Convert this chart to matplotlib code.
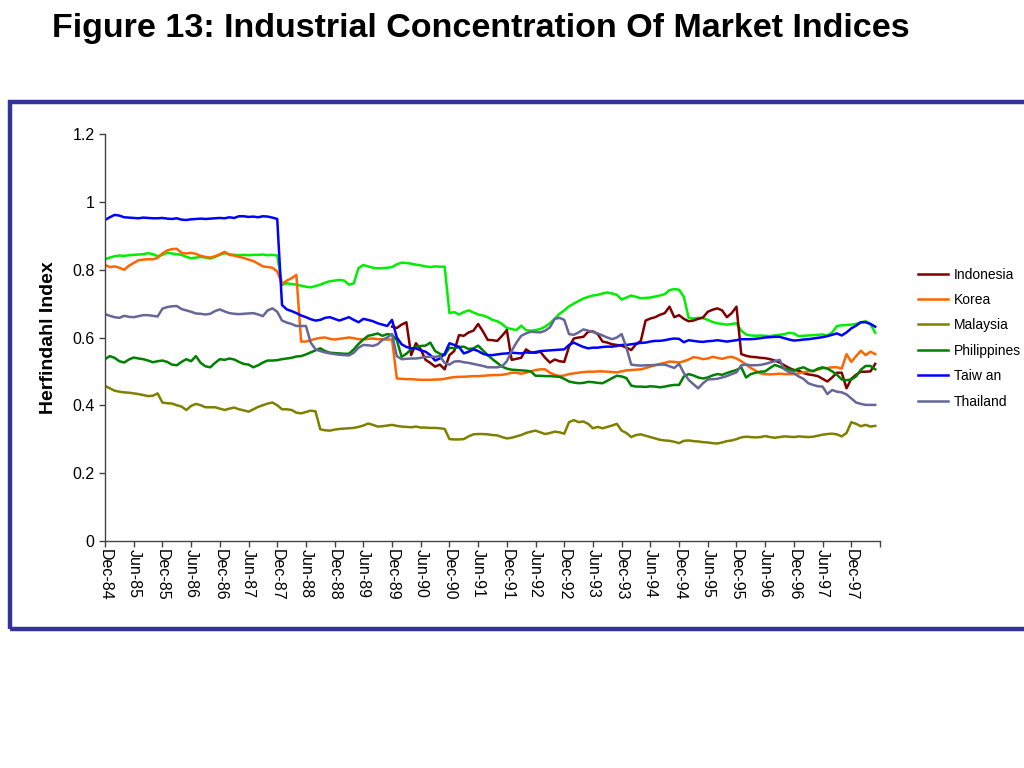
import matplotlib
matplotlib.use("Agg")
import matplotlib.pyplot as plt
from matplotlib.patches import Rectangle
import numpy as np

plt.rcParams['font.family'] = ['Liberation Sans', 'DejaVu Sans']

# monthly observations, Dec-84 .. May-98
tick_labels = ['Dec-84', 'Jun-85', 'Dec-85', 'Jun-86', 'Dec-86', 'Jun-87', 'Dec-87',
               'Jun-88', 'Dec-88', 'Jun-89', 'Dec-89', 'Jun-90', 'Dec-90', 'Jun-91',
               'Dec-91', 'Jun-92', 'Dec-92', 'Jun-93', 'Dec-93', 'Jun-94', 'Dec-94',
               'Jun-95', 'Dec-95', 'Jun-96', 'Dec-96', 'Jun-97', 'Dec-97']

taiwan = [
    0.947, 0.955, 0.962, 0.960, 0.955, 0.954, 0.953, 0.952, 0.954, 0.953, 0.952, 0.952,
    0.953, 0.951, 0.950, 0.952, 0.948, 0.947, 0.949, 0.950, 0.951, 0.950, 0.951, 0.952,
    0.953, 0.952, 0.955, 0.953, 0.958, 0.958, 0.956, 0.957, 0.955, 0.958, 0.957, 0.954,
    0.950, 0.696, 0.683, 0.678, 0.672, 0.665, 0.660, 0.654, 0.650, 0.652, 0.658, 0.660,
    0.655, 0.650, 0.655, 0.660, 0.652, 0.645, 0.655, 0.652, 0.648, 0.642, 0.638, 0.634,
    0.652, 0.600, 0.580, 0.572, 0.568, 0.568, 0.562, 0.558, 0.548, 0.532, 0.538, 0.552,
    0.583, 0.578, 0.572, 0.553, 0.558, 0.565, 0.560, 0.552, 0.548, 0.548, 0.550, 0.552,
    0.553, 0.555, 0.554, 0.553, 0.556, 0.555, 0.557, 0.560, 0.561, 0.562, 0.563, 0.564,
    0.565, 0.578, 0.585, 0.578, 0.572, 0.568, 0.570, 0.570, 0.572, 0.573, 0.573, 0.575,
    0.578, 0.578, 0.580, 0.582, 0.584, 0.585, 0.588, 0.590, 0.590, 0.592, 0.595, 0.597,
    0.596, 0.586, 0.592, 0.590, 0.588, 0.587, 0.589, 0.590, 0.592, 0.590, 0.588, 0.590,
    0.592, 0.595, 0.595, 0.595, 0.596, 0.598, 0.600, 0.601, 0.602, 0.602, 0.598, 0.594,
    0.591, 0.592, 0.594, 0.595, 0.597, 0.599, 0.601, 0.604, 0.608, 0.612, 0.606, 0.615,
    0.627, 0.635, 0.645, 0.645, 0.640, 0.632]

# unlabelled bright green series
other = [
    0.831, 0.836, 0.840, 0.842, 0.841, 0.843, 0.844, 0.845, 0.846, 0.849, 0.846, 0.840,
    0.844, 0.850, 0.848, 0.846, 0.844, 0.838, 0.834, 0.836, 0.838, 0.836, 0.833, 0.838,
    0.844, 0.849, 0.846, 0.844, 0.843, 0.844, 0.843, 0.844, 0.844, 0.845, 0.843, 0.844,
    0.842, 0.755, 0.760, 0.758, 0.756, 0.753, 0.750, 0.748, 0.752, 0.756, 0.762, 0.766,
    0.768, 0.770, 0.768, 0.756, 0.760, 0.805, 0.814, 0.810, 0.806, 0.804, 0.805, 0.806,
    0.808, 0.816, 0.821, 0.820, 0.818, 0.815, 0.813, 0.810, 0.808, 0.810, 0.809, 0.809,
    0.672, 0.675, 0.668, 0.675, 0.680, 0.674, 0.668, 0.665, 0.660, 0.652, 0.648, 0.640,
    0.628, 0.625, 0.622, 0.635, 0.622, 0.620, 0.622, 0.625, 0.632, 0.642, 0.655, 0.670,
    0.680, 0.692, 0.700, 0.708, 0.715, 0.720, 0.724, 0.726, 0.730, 0.733, 0.730, 0.726,
    0.712, 0.718, 0.724, 0.720, 0.716, 0.717, 0.718, 0.721, 0.724, 0.728, 0.740, 0.743,
    0.741, 0.720, 0.658, 0.656, 0.658, 0.657, 0.652, 0.646, 0.642, 0.640, 0.638, 0.640,
    0.642, 0.620, 0.609, 0.606, 0.605, 0.606, 0.605, 0.604, 0.606, 0.608, 0.610, 0.614,
    0.612, 0.604, 0.605, 0.606, 0.607, 0.608, 0.609, 0.606, 0.615, 0.634, 0.636, 0.637,
    0.638, 0.640, 0.645, 0.648, 0.640, 0.614]

korea = [
    0.814, 0.808, 0.810, 0.806, 0.800, 0.812, 0.820, 0.828, 0.830, 0.831, 0.831, 0.835,
    0.848, 0.857, 0.861, 0.862, 0.850, 0.848, 0.850, 0.847, 0.841, 0.838, 0.836, 0.840,
    0.846, 0.853, 0.844, 0.842, 0.838, 0.835, 0.830, 0.826, 0.818, 0.810, 0.808, 0.806,
    0.795, 0.758, 0.768, 0.775, 0.785, 0.588, 0.588, 0.592, 0.596, 0.599, 0.600, 0.596,
    0.594, 0.596, 0.598, 0.600, 0.598, 0.595, 0.594, 0.596, 0.597, 0.595, 0.595, 0.594,
    0.594, 0.479, 0.478, 0.477, 0.477, 0.476, 0.475, 0.475, 0.475, 0.476, 0.476, 0.478,
    0.481, 0.483, 0.484, 0.484, 0.485, 0.486, 0.486, 0.487, 0.488, 0.489, 0.489, 0.490,
    0.492, 0.496, 0.496, 0.493, 0.496, 0.500, 0.504, 0.506, 0.506, 0.496, 0.490, 0.486,
    0.488, 0.492, 0.494, 0.496, 0.498, 0.499, 0.499, 0.500, 0.500, 0.499, 0.498, 0.497,
    0.500, 0.503, 0.504, 0.505, 0.506, 0.510, 0.514, 0.518, 0.522, 0.525, 0.529, 0.528,
    0.526, 0.530, 0.535, 0.542, 0.540, 0.536, 0.538, 0.543, 0.540, 0.537, 0.541, 0.543,
    0.538, 0.530, 0.520, 0.510, 0.502, 0.494, 0.492, 0.491, 0.492, 0.493, 0.492, 0.492,
    0.492, 0.494, 0.497, 0.500, 0.502, 0.505, 0.509, 0.510, 0.512, 0.512, 0.508, 0.551,
    0.528, 0.545, 0.561, 0.548, 0.558, 0.551]

malaysia = [
    0.457, 0.450, 0.443, 0.440, 0.438, 0.437, 0.435, 0.433, 0.430, 0.427, 0.428, 0.435,
    0.408, 0.406, 0.405, 0.400, 0.396, 0.386, 0.398, 0.404, 0.400, 0.394, 0.394, 0.394,
    0.390, 0.386, 0.390, 0.393, 0.388, 0.385, 0.381, 0.388, 0.395, 0.400, 0.405, 0.408,
    0.400, 0.388, 0.388, 0.386, 0.378, 0.376, 0.380, 0.384, 0.382, 0.329, 0.326, 0.325,
    0.328, 0.330, 0.331, 0.332, 0.333, 0.336, 0.340, 0.346, 0.342, 0.337, 0.338, 0.340,
    0.342, 0.339, 0.337, 0.336, 0.335, 0.337, 0.334, 0.334, 0.333, 0.333, 0.332, 0.330,
    0.300, 0.299, 0.299, 0.300, 0.308, 0.314, 0.315, 0.315, 0.314, 0.312, 0.311, 0.306,
    0.302, 0.304, 0.308, 0.312, 0.318, 0.322, 0.325, 0.320, 0.315, 0.318, 0.322, 0.320,
    0.316, 0.350, 0.356, 0.350, 0.352, 0.345, 0.332, 0.336, 0.332, 0.336, 0.340, 0.345,
    0.325, 0.318, 0.306, 0.312, 0.314, 0.310, 0.306, 0.302, 0.298, 0.296, 0.295, 0.292,
    0.288, 0.295, 0.296, 0.294, 0.293, 0.291, 0.290, 0.288, 0.287, 0.290, 0.294, 0.296,
    0.300, 0.305, 0.307, 0.306, 0.305, 0.306, 0.309, 0.306, 0.304, 0.306, 0.308, 0.307,
    0.306, 0.308, 0.307, 0.306, 0.307, 0.310, 0.313, 0.315, 0.316, 0.314, 0.308, 0.318,
    0.350, 0.345, 0.338, 0.342, 0.337, 0.339]

philippines = [
    0.536, 0.545, 0.540, 0.530, 0.526, 0.535, 0.541, 0.538, 0.536, 0.532, 0.527, 0.530,
    0.532, 0.528, 0.520, 0.518, 0.528, 0.536, 0.530, 0.545, 0.525, 0.515, 0.512, 0.525,
    0.536, 0.534, 0.538, 0.535, 0.528, 0.522, 0.520, 0.512, 0.518, 0.526, 0.532, 0.532,
    0.533, 0.536, 0.538, 0.540, 0.544, 0.545, 0.550, 0.556, 0.562, 0.568, 0.560, 0.555,
    0.554, 0.553, 0.552, 0.552, 0.565, 0.581, 0.594, 0.605, 0.608, 0.612, 0.605, 0.610,
    0.608, 0.592, 0.543, 0.552, 0.566, 0.573, 0.575, 0.576, 0.585, 0.560, 0.552, 0.548,
    0.570, 0.568, 0.572, 0.573, 0.566, 0.568, 0.576, 0.562, 0.548, 0.536, 0.525, 0.514,
    0.508, 0.505, 0.504, 0.503, 0.502, 0.500, 0.487, 0.487, 0.486, 0.486, 0.485, 0.484,
    0.478, 0.470, 0.467, 0.465, 0.466, 0.469, 0.468, 0.466, 0.465, 0.472, 0.480, 0.487,
    0.485, 0.480, 0.458, 0.455, 0.455, 0.454, 0.456, 0.455, 0.453, 0.455, 0.458, 0.460,
    0.460, 0.485, 0.492, 0.488, 0.482, 0.479, 0.482, 0.488, 0.492, 0.490, 0.495, 0.500,
    0.504, 0.512, 0.482, 0.492, 0.496, 0.499, 0.500, 0.510, 0.519, 0.514, 0.508, 0.506,
    0.502, 0.508, 0.512, 0.505, 0.500, 0.508, 0.512, 0.508, 0.500, 0.490, 0.476, 0.474,
    0.476, 0.485, 0.505, 0.516, 0.516, 0.506]

# Indonesia begins at Dec-89
indonesia = [np.nan] * 60 + [
    0.632, 0.628, 0.638, 0.645, 0.548, 0.583, 0.565, 0.534, 0.525, 0.514, 0.520, 0.506,
    0.548, 0.560, 0.607, 0.605, 0.615, 0.620, 0.640, 0.618, 0.593, 0.592, 0.590, 0.605,
    0.622, 0.534, 0.537, 0.540, 0.565, 0.556, 0.555, 0.558, 0.540, 0.526, 0.535, 0.530,
    0.528, 0.573, 0.597, 0.600, 0.602, 0.617, 0.618, 0.610, 0.588, 0.585, 0.580, 0.578,
    0.576, 0.570, 0.563, 0.580, 0.590, 0.650, 0.656, 0.660, 0.667, 0.672, 0.691, 0.660,
    0.666, 0.655, 0.648, 0.650, 0.655, 0.659, 0.676, 0.682, 0.686, 0.680, 0.660, 0.672,
    0.691, 0.551, 0.546, 0.543, 0.542, 0.540, 0.539, 0.536, 0.532, 0.526, 0.518, 0.510,
    0.504, 0.502, 0.495, 0.491, 0.489, 0.486, 0.478, 0.470, 0.482, 0.496, 0.496, 0.450,
    0.478, 0.490, 0.499, 0.499, 0.500, 0.522]

thailand = [
    0.669, 0.664, 0.660, 0.658, 0.664, 0.661, 0.660, 0.663, 0.666, 0.666, 0.664, 0.662,
    0.685, 0.690, 0.692, 0.693, 0.684, 0.680, 0.676, 0.671, 0.670, 0.668, 0.670, 0.678,
    0.683, 0.677, 0.672, 0.670, 0.669, 0.670, 0.671, 0.672, 0.668, 0.663, 0.680, 0.686,
    0.676, 0.650, 0.644, 0.640, 0.634, 0.634, 0.634, 0.585, 0.565, 0.560, 0.556, 0.553,
    0.551, 0.549, 0.548, 0.547, 0.555, 0.570, 0.578, 0.577, 0.575, 0.580, 0.593, 0.600,
    0.610, 0.545, 0.536, 0.537, 0.538, 0.538, 0.540, 0.543, 0.543, 0.543, 0.545, 0.525,
    0.520, 0.529, 0.530, 0.527, 0.525, 0.522, 0.519, 0.516, 0.512, 0.512, 0.512, 0.515,
    0.530, 0.560, 0.585, 0.605, 0.612, 0.617, 0.616, 0.615, 0.620, 0.630, 0.655, 0.658,
    0.652, 0.610, 0.608, 0.615, 0.624, 0.620, 0.616, 0.612, 0.606, 0.600, 0.595, 0.600,
    0.610, 0.570, 0.520, 0.518, 0.517, 0.518, 0.518, 0.519, 0.520, 0.520, 0.515, 0.510,
    0.522, 0.495, 0.475, 0.462, 0.450, 0.465, 0.476, 0.477, 0.478, 0.482, 0.486, 0.492,
    0.497, 0.518, 0.520, 0.518, 0.518, 0.519, 0.522, 0.526, 0.530, 0.534, 0.506, 0.498,
    0.494, 0.485, 0.478, 0.465, 0.460, 0.456, 0.455, 0.433, 0.445, 0.440, 0.438, 0.432,
    0.420, 0.408, 0.404, 0.401, 0.401, 0.401]

series = [
    ('Indonesia', indonesia, '#800000'),
    ('Korea', korea, '#FF6600'),
    ('Malaysia', malaysia, '#808000'),
    ('Philippines', philippines, '#008000'),
    ('Taiw an', taiwan, '#0000FF'),
    ('Thailand', thailand, '#666699'),
]

fig = plt.figure(figsize=(10.24, 7.68), dpi=100)

# blue frame around the chart
fig.patches.append(Rectangle((10 / 1024, 1 - 629 / 768), 1.1, (629 - 102) / 768,
                             transform=fig.transFigure, fill=False,
                             edgecolor='#333399', linewidth=3.2, zorder=0))

fig.text(52 / 1024, 1 - 28 / 768, 'Figure 13: Industrial Concentration Of Market Indices',
         fontsize=24.5, fontweight='bold', ha='left', va='center')

ax = fig.add_axes([105 / 1024, 1 - 540.7 / 768, 775 / 1024, 406.4 / 768])

x = np.arange(len(taiwan))
ax.plot(x, other, color='#00EE00', lw=1.8)
handles = []
for name, vals, col in series:
    h, = ax.plot(x, vals, color=col, lw=1.8, label=name)
    handles.append(h)

ax.set_xlim(0, 162)
ax.set_ylim(0, 1.2)
ax.set_yticks([0, 0.2, 0.4, 0.6, 0.8, 1, 1.2])
ax.set_yticklabels(['0', '0.2', '0.4', '0.6', '0.8', '1', '1.2'], fontsize=11.5)
ax.set_xticks(range(0, 163, 6))
ax.set_xticklabels(tick_labels + [''], rotation=-90, fontsize=11.5, va='top', ha='center')
ax.tick_params(axis='both', direction='out', length=4, width=1, color='#444444')
ax.tick_params(axis='x', pad=2)
for s in ['top', 'right']:
    ax.spines[s].set_visible(False)
for s in ['left', 'bottom']:
    ax.spines[s].set_color('#444444')
    ax.spines[s].set_linewidth(1)

ax.set_ylabel('Herfindahl Index', fontsize=14, fontweight='bold', labelpad=11)

fig.legend(handles=handles, loc='upper left', bbox_to_anchor=(912 / 1024, 1 - 262 / 768),
           frameon=False, fontsize=10, handlelength=2.2, labelspacing=0.82,
           handletextpad=0.4, borderaxespad=0)

fig.savefig('out.png', dpi=100)
